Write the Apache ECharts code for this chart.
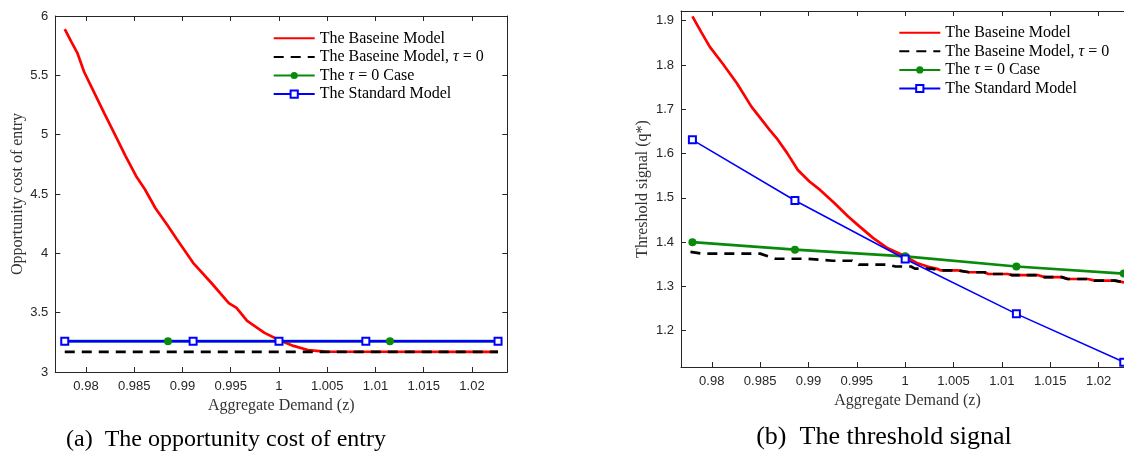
<!DOCTYPE html>
<html>
<head>
<meta charset="utf-8">
<script src="https://cdn.jsdelivr.net/npm/echarts@6/dist/echarts.min.js"></script>
<style>
html,body{margin:0;padding:0;background:#fff;overflow:hidden;}
#c{width:1124px;height:458px;}
</style>
</head>
<body>
<div id="c"></div>
<script>
// ---------- data ----------
const seriesNames = ['The Baseine Model', 'The Baseine Model, τ = 0', 'The τ = 0 Case', 'The Standard Model'];
const xTicks = [0.98, 0.985, 0.99, 0.995, 1, 1.005, 1.01, 1.015, 1.02];
const leftYTicks = [3, 3.5, 4, 4.5, 5, 5.5, 6];
const rightYTicks = [1.2, 1.3, 1.4, 1.5, 1.6, 1.7, 1.8, 1.9];
const captionA = '(a)  The opportunity cost of entry';
const captionB = '(b)  The threshold signal';
const xTitle = 'Aggregate Demand (z)';
const leftYTitle = 'Opportunity cost of entry';
const rightYTitle = 'Threshold signal (q*)';

// Panel (a): opportunity cost of entry
const aRedX = [0.9778, 0.9785, 0.9791, 0.9798, 0.9807, 0.9819, 0.9830, 0.9841, 0.9852, 0.9861, 0.9872, 0.9885, 0.9894, 0.9911, 0.9930, 0.9948, 0.9956, 0.9967, 0.9985, 1.0000, 1.0015, 1.0030, 1.0048, 1.0227];
const aRedY = [5.89, 5.78, 5.69, 5.53, 5.38, 5.18, 5.00, 4.82, 4.65, 4.54, 4.38, 4.23, 4.12, 3.92, 3.75, 3.58, 3.54, 3.43, 3.33, 3.27, 3.22, 3.185, 3.171, 3.17];
const aBlackX = [0.9778, 1.0227];
const aBlackY = [3.17, 3.17];
const aGreenX = [0.9778, 0.9885, 1.0, 1.0115, 1.0227];
const aGreenY = [3.26, 3.26, 3.26, 3.26, 3.26];
const aBlueX = [0.9778, 0.9911, 1.0, 1.0090, 1.0227];
const aBlueY = [3.26, 3.26, 3.26, 3.26, 3.26];

// Panel (b): threshold signal
const bRedX = [0.9780, 0.9789, 0.9798, 0.9811, 0.9826, 0.9841, 0.9860, 0.9867, 0.9878, 0.9889, 0.9901, 0.9912, 0.9927, 0.9941, 0.9953, 0.9967, 0.9982, 1.0000, 1.0012, 1.0023, 1.0034, 1.0037, 1.0055, 1.0066, 1.0082, 1.0086, 1.0106, 1.0110, 1.0137, 1.0144, 1.0162, 1.0168, 1.0189, 1.0196, 1.0217, 1.0227];
const bRedY = [1.910, 1.875, 1.841, 1.804, 1.759, 1.706, 1.653, 1.635, 1.601, 1.563, 1.537, 1.518, 1.488, 1.458, 1.435, 1.409, 1.386, 1.368, 1.353, 1.345, 1.339, 1.336, 1.336, 1.332, 1.332, 1.328, 1.328, 1.3257, 1.3257, 1.321, 1.321, 1.3167, 1.3167, 1.313, 1.313, 1.309];
const bBlackX = [0.9778, 0.9790, 0.9850, 0.9866, 0.9899, 0.9925, 0.9945, 0.9952, 0.9982, 0.9990, 1.0006, 1.0010, 1.0027, 1.0037, 1.0055, 1.0066, 1.0082, 1.0086, 1.0106, 1.0110, 1.0137, 1.0144, 1.0162, 1.0168, 1.0189, 1.0196, 1.0217, 1.0227];
const bBlackY = [1.378, 1.374, 1.374, 1.3625, 1.3625, 1.358, 1.358, 1.349, 1.349, 1.345, 1.345, 1.340, 1.340, 1.336, 1.336, 1.332, 1.332, 1.328, 1.328, 1.3257, 1.3257, 1.321, 1.321, 1.3167, 1.3167, 1.313, 1.313, 1.309];
const bGreenX = [0.9780, 0.9886, 1.0, 1.0115, 1.0226];
const bGreenY = [1.400, 1.383, 1.368, 1.345, 1.329];
const bBlueX = [0.9780, 0.9886, 1.0, 1.0115, 1.0226];
const bBlueY = [1.631, 1.494, 1.362, 1.238, 1.129];

// ---------- chart ----------
const pair = (xs, ys) => xs.map((x, i) => [x, ys[i]]);
const XMIN = 0.97682, XMAX = 1.02366;
const axisColor = '#262626';
const serif = 'Liberation Serif, Times New Roman, serif';
const sans = 'Liberation Sans, Arial, Helvetica, sans-serif';
const fmtX = v => String(+(+v).toFixed(3));

function xAx(grid, pos, labels) {
  return {
    type: 'value', gridIndex: grid, position: pos, min: XMIN, max: XMAX,
    axisLine: { show: true, onZero: false, lineStyle: { color: axisColor, width: 1 } },
    axisTick: { show: true, inside: true, length: 5, customValues: xTicks, lineStyle: { color: axisColor } },
    axisLabel: { show: labels, customValues: xTicks, formatter: fmtX, color: axisColor, fontFamily: sans, fontSize: 13, margin: 8 },
    splitLine: { show: false },
    name: labels ? xTitle : '', nameLocation: 'middle', nameGap: 24,
    nameTextStyle: { fontFamily: serif, fontSize: 16, color: '#333' }
  };
}
function yAx(grid, pos, labels, mn, mx, ticks, name, fmt) {
  return {
    type: 'value', gridIndex: grid, position: pos, min: mn, max: mx,
    axisLine: { show: true, onZero: false, lineStyle: { color: axisColor, width: 1 } },
    axisTick: { show: true, inside: true, length: 5, customValues: ticks, lineStyle: { color: axisColor } },
    axisLabel: { show: labels, customValues: ticks, formatter: fmt, color: axisColor, fontFamily: sans, fontSize: 13, margin: 7 },
    splitLine: { show: false },
    name: labels ? name : '', nameLocation: 'middle', nameGap: 30,
    nameTextStyle: { fontFamily: serif, fontSize: 16, color: '#333' }
  };
}

const RED = '#ff0000', BLACK = '#000000', GREEN = '#0a8a0a', BLUE = '#0000ff';

function mkSeries(xi, yi, red, black, green, blue, blueW) {
  return [
    { name: seriesNames[0], type: 'line', xAxisIndex: xi, yAxisIndex: yi, data: red, symbol: 'none',
      lineStyle: { color: RED, width: 2.7 }, itemStyle: { color: RED }, animation: false },
    { name: seriesNames[1], type: 'line', xAxisIndex: xi, yAxisIndex: yi, data: black, symbol: 'none',
      lineStyle: { color: BLACK, width: 2.7, type: [10, 7] }, itemStyle: { color: BLACK }, animation: false },
    { name: seriesNames[2], type: 'line', xAxisIndex: xi, yAxisIndex: yi, data: green, symbol: 'circle', symbolSize: 8,
      lineStyle: { color: GREEN, width: 2.7 }, itemStyle: { color: GREEN }, animation: false },
    { name: seriesNames[3], type: 'line', xAxisIndex: xi, yAxisIndex: yi, data: blue, symbol: 'emptyRect', symbolSize: 7,
      lineStyle: { color: BLUE, width: blueW }, itemStyle: { color: BLUE, borderWidth: 1.6 }, animation: false }
  ];
}

const legendText = {
  fontFamily: serif, fontSize: 16, color: '#000', lineHeight: 16,
  rich: { i: { fontFamily: serif, fontSize: 16, fontStyle: 'italic', color: '#000', lineHeight: 16 } }
};
const legendFmt = n => n.replace('τ', '{i|τ}');
const legendData = seriesNames.map((n, i) => i < 2 ? { name: n, itemStyle: { opacity: 0 } } : { name: n });

function mkLegend(left, top) {
  return { orient: 'vertical', left: left, top: top, padding: 0, itemWidth: 41, itemHeight: 9, itemGap: 2.6,
    selectedMode: false, textStyle: legendText, formatter: legendFmt, data: legendData };
}

const option = {
  animation: false,
  backgroundColor: '#fff',
  grid: [
    { left: 55.3, width: 452, top: 16, bottom: 458 - 372, outerBoundsMode: 'none', containLabel: false },
    { left: 681, width: 453, top: 11, bottom: 458 - 367, outerBoundsMode: 'none', containLabel: false }
  ],
  xAxis: [xAx(0, 'bottom', true), xAx(0, 'top', false), xAx(1, 'bottom', true), xAx(1, 'top', false)],
  yAxis: [
    yAx(0, 'left', true, 3, 6, leftYTicks, leftYTitle, v => String(+(+v).toFixed(1))),
    yAx(0, 'right', false, 3, 6, leftYTicks, '', null),
    yAx(1, 'left', true, 1.118, 1.922, rightYTicks, rightYTitle, v => (+v).toFixed(1)),
    yAx(1, 'right', false, 1.118, 1.922, rightYTicks, '', null)
  ],
  legend: [mkLegend(272.7, 30.3), mkLegend(898.3, 24.7)],
  graphic: [
    { type: 'text', x: 226, y: 440, style: { text: captionA, fontFamily: serif, fontSize: 24, fill: '#000', align: 'center', verticalAlign: 'middle' } },
    { type: 'text', x: 884, y: 437, style: { text: captionB, fontFamily: serif, fontSize: 26, fill: '#000', align: 'center', verticalAlign: 'middle' } }
  ],
  series: [].concat(
    mkSeries(0, 0, pair(aRedX, aRedY), pair(aBlackX, aBlackY), pair(aGreenX, aGreenY), pair(aBlueX, aBlueY), 2.5),
    mkSeries(2, 2, pair(bRedX, bRedY), pair(bBlackX, bBlackY), pair(bGreenX, bGreenY), pair(bBlueX, bBlueY), 1.6)
  )
};

const chart = echarts.init(document.getElementById('c'), null, { renderer: 'canvas' });
chart.setOption(option);
</script>
</body>
</html>
